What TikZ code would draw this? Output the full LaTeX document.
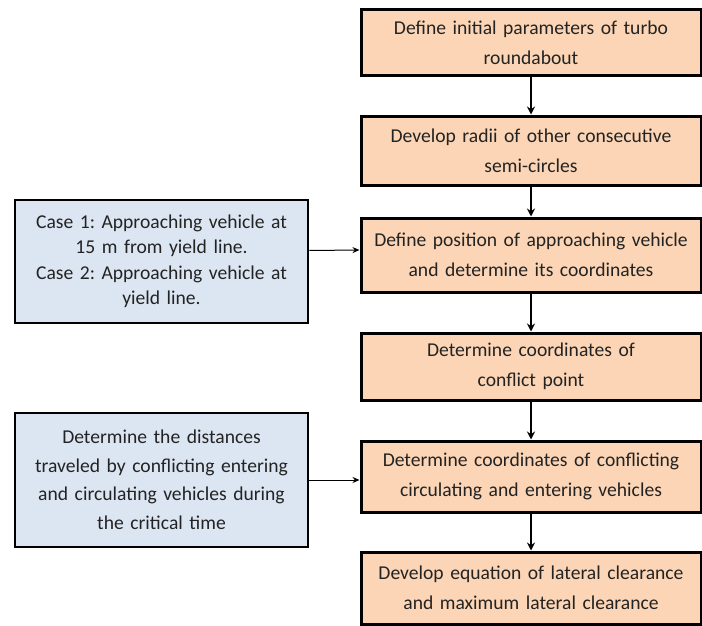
\documentclass[tikz,border=0pt]{standalone}
\usepackage{fontspec}
\setmainfont{Carlito}
\usetikzlibrary{arrows.meta}
\definecolor{peach}{RGB}{251,213,181}
\definecolor{paleblue}{RGB}{220,230,242}
\definecolor{txt}{RGB}{35,35,35}
\frenchspacing
\begin{document}
\begin{tikzpicture}[x=1pt,y=-1pt,
  stepbox/.style={draw=black,line width=3pt,fill=peach,minimum width=340pt,text width=336pt,align=center,inner sep=0pt,
    font=\fontsize{19.6}{30}\selectfont,text=txt},
  sidebox/.style={draw=black,line width=2.6pt,fill=paleblue,minimum width=293pt,text width=289pt,align=center,inner sep=0pt,
    font=\fontsize{19.6}{25.5}\selectfont,text=txt},
  varrow/.style={line width=2pt,-{Stealth[length=8pt,width=8pt]}},
  harrow/.style={line width=1pt,-{Stealth[length=7pt,width=6pt]}}]
\useasboundingbox (0,0) rectangle (702,626);
\node[stepbox,minimum height=66pt] (b1) at (531,43) {Define initial parameters of turbo\\roundabout};
\node[stepbox,minimum height=69pt] (b2) at (531,150.5) {Develop radii of other consecutive\\semi-circles};
\node[stepbox,minimum height=74pt] (b3) at (531,255) {Define position of approaching vehicle\\and determine its coordinates};
\node[stepbox,minimum height=67pt] (b4) at (531,366.5) {Determine coordinates of\\conflict point};
\node[stepbox,minimum height=71pt] (b5) at (531,476.5) {Determine coordinates of conflicting\\circulating and entering vehicles};
\node[stepbox,minimum height=72pt] (b6) at (531,588) {Develop equation of lateral clearance\\and maximum lateral clearance};
\node[sidebox,minimum height=123pt] (l1) at (161.5,261.5) {Case 1: Approaching vehicle at\\15 m from yield line.\\Case 2: Approaching vehicle at\\yield line.};
\node[sidebox,minimum height=134pt,font=\fontsize{19.6}{28.5}\selectfont] (l2) at (161.5,480) {Determine the distances\\traveled by conflicting entering\\and circulating vehicles during\\the critical time};
\draw[varrow] (b1) -- (b2);
\draw[varrow] (b2) -- (b3);
\draw[varrow] (b3) -- (b4);
\draw[varrow] (b4) -- (b5);
\draw[varrow] (b5) -- (b6);
\draw[harrow] ([yshift=11pt]l1.east) -- ([yshift=5pt]b3.west);
\draw[harrow] (l2.east) -- (b5.west |- l2.east);
\end{tikzpicture}
\end{document}
